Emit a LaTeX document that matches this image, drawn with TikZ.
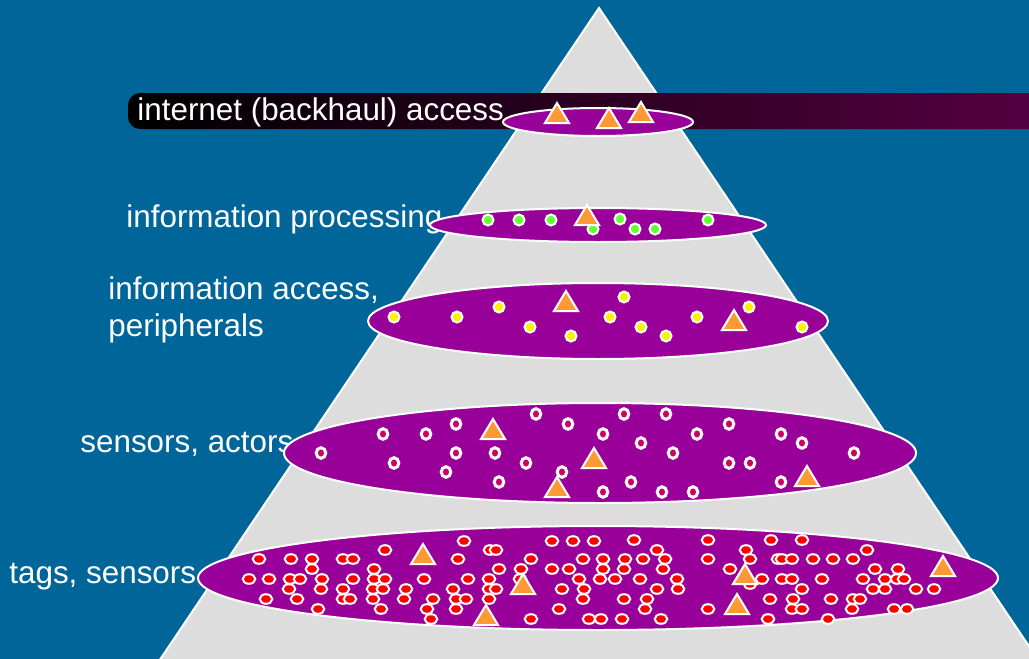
\documentclass[tikz,border=0pt]{standalone}
\usepackage{fontspec}
\setmainfont{Liberation Sans}
\usepackage{tikz}

\definecolor{slide}{RGB}{0,102,153}
\definecolor{pyramid}{RGB}{221,221,221}
\definecolor{plum}{RGB}{153,0,153}
\definecolor{amber}{RGB}{255,153,51}
\definecolor{lime}{RGB}{102,255,51}
\definecolor{crimson}{RGB}{204,0,102}
\definecolor{navy}{RGB}{8,0,62}
\definecolor{maroon}{RGB}{85,0,65}

\begin{document}
\begin{tikzpicture}[x=0.5pt,y=-0.5pt,
    txt/.style={text=white,font=\fontsize{15.7}{18.5}\selectfont,anchor=base west,inner sep=0pt,align=left},
    layer/.style={draw=white,line width=1pt,fill=plum},
    tri/.style={draw=white,line width=1pt,fill=amber},
    gdot/.style={draw=white,line width=1pt,fill=lime},
    ydot/.style={draw=white,line width=1pt,fill=yellow},
    cdot/.style={draw=white,line width=1.5pt,fill=crimson},
    rdot/.style={draw=white,line width=1pt,fill=red}]
    \clip (0,0) rectangle (1029,659);
    \fill[slide] (0,0) rectangle (1029,659);

    \draw[white,line width=1pt,fill=pyramid] (599,8) -- (1045,670) -- (153,670) -- cycle;

    \shade[left color=black,middle color=navy,right color=maroon,rounded corners=6]
        (128,93) rectangle (1045,129);

    \node[txt] at (137,120) (backhaul) {internet (backhaul) access};
    \node[txt] at (126,227) (processing) {information processing};
    \node[txt] at (108,336) (peripherals) {information access,\\[0pt]peripherals};
    \node[txt] at (80,452) (actors) {sensors, actors};
    \node[txt] at (9,583) (tags) {tags, sensors};

    \draw[layer] (598,122) ellipse [x radius=95,y radius=14];
    \draw[layer] (598,225) ellipse [x radius=168,y radius=17];
    \draw[layer] (598,321) ellipse [x radius=230,y radius=38];
    \draw[layer] (600,453) ellipse [x radius=316,y radius=50];
    \draw[layer] (598,578) ellipse [x radius=400,y radius=52];

    \foreach \x/\y in {488/220,519/220,551/220,593/229,620/219,635/229,655/229,708/220}
        \draw[gdot] (\x,\y) circle [radius=5.5];

    \foreach \x/\y in {394/317,457/317,499/307,530/327,571/336,624/297,610/317,641/327,666/336,697/317,749/307,802/327}
        \draw[ydot] (\x,\y) circle [radius=5.5];

    \foreach \x/\y in {383/434,426/434,456/424,536/414,568/424,624/414,666/414,603/434,641/443,697/434,
                       729/424,781/434,802/443,854/453,321/453,394/463,456/453,495/453,526/463,446/472,
                       499/482,562/472,603/492,631/482,662/492,693/492,673/453,729/463,750/463,781/482}
        \draw[cdot] (\x,\y) ellipse [x radius=4.8,y radius=5.3];

    \foreach \x/\y in {464/541,552/541,573/541,594/541,385/550,490/550,496/550,
                       259/559,291/559,312/559,343/559,353/559,458/559,531/559,583/559,603/559,
                       312/569,374/569,499/569,521/569,552/569,569/569,603/569,
                       249/579,269/579,290/579,300/579,322/579,353/579,374/579,385/579,424/579,468/579,
                       489/579,520/579,579/579,600/579,
                       289/589,321/589,343/589,373/589,383/589,406/589,453/589,489/589,496/589,562/589,584/589,
                       266/599,297/599,343/599,350/599,373/599,404/599,433/599,456/599,466/599,489/599,583/599,
                       318/609,381/609,427/609,456/609,559/609,
                       431/619,531/619,589/619,601/619,
                       634/540,708/540,771/540,802/540,657/550,746/550,867/550,
                       625/559,643/559,665/559,708/559,750/559,778/559,782/559,792/559,813/559,833/559,853/559,
                       624/569,663/569,730/569,875/569,898/569,
                       615/579,640/579,677/579,762/579,782/579,792/579,822/579,863/579,885/579,897/579,904/579,
                       750/584,
                       657/589,678/589,802/589,873/589,885/589,916/589,934/589,
                       624/599,647/599,770/599,793/599,831/599,853/599,860/599,
                       645/609,708/609,792/609,802/609,852/609,894/609,907/609,
                       622/619,661/619,768/619,828/619}
        \draw[rdot] (\x,\y) ellipse [x radius=6.3,y radius=4.8];

    \foreach \x/\y in {557/114,609/119,641/113,
                       587/216,
                       566/302,734/321,
                       493/430,594/459,557/488,807/477,
                       423/555,523/585,486/616,745/575,737/605,943/567}
        \draw[tri] (\x,\y) ++(0,-11) -- ++(12,20) -- ++(-24,0) -- cycle;
\end{tikzpicture}
\end{document}
